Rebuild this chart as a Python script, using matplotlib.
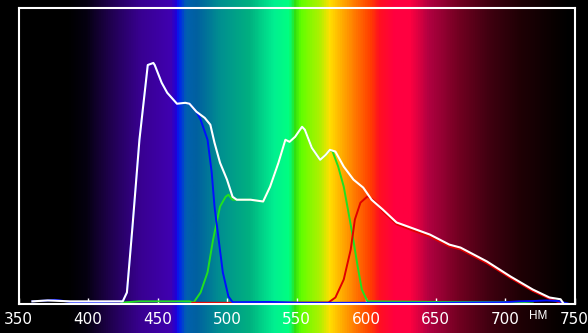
import numpy as np
import matplotlib
matplotlib.use("Agg")
import matplotlib.pyplot as plt
from matplotlib.colors import LinearSegmentedColormap

# spectral curves (wavelength nm, relative level)
white_nm = [360, 371, 387, 425, 428, 432, 437, 443, 447, 448, 453, 457, 464, 470, 473,
            478, 484, 488, 491, 495, 500, 504, 507, 517, 526, 531, 537, 542, 545, 549,
            554, 556, 561, 567, 571, 574, 578, 584, 591, 598, 604, 612, 622, 632, 646,
            660, 668, 687, 704, 720, 732, 740, 742]
white_val = [0.007, 0.010, 0.007, 0.007, 0.037, 0.260, 0.554, 0.807, 0.814, 0.807, 0.747,
             0.713, 0.676, 0.679, 0.676, 0.649, 0.628, 0.605, 0.544, 0.476, 0.419, 0.361,
             0.351, 0.351, 0.345, 0.395, 0.476, 0.554, 0.547, 0.564, 0.598, 0.588, 0.527,
             0.486, 0.503, 0.520, 0.514, 0.463, 0.419, 0.392, 0.351, 0.318, 0.274, 0.257,
             0.233, 0.199, 0.189, 0.142, 0.091, 0.047, 0.020, 0.014, 0.0]

blue_nm = [360, 371, 376, 380, 387, 400, 425, 428, 432, 437, 443, 447, 448, 453, 457, 464,
           470, 473, 478, 481, 486, 489, 491, 494, 497, 501, 504, 531, 553, 600, 650, 700,
           710, 720, 730, 738, 745]
blue_val = [0.007, 0.010, 0.012, 0.010, 0.005, 0.003, 0.007, 0.037, 0.260, 0.554, 0.807,
            0.814, 0.807, 0.747, 0.713, 0.676, 0.679, 0.676, 0.649, 0.622, 0.554, 0.443,
            0.328, 0.216, 0.105, 0.024, 0.004, 0.005, 0.002, 0.002, 0.002, 0.004, 0.007,
            0.008, 0.010, 0.008, 0.0]

green_nm = [424, 437, 473, 476, 481, 486, 490, 493, 495, 499, 501, 504, 507, 517, 526, 531,
            537, 542, 545, 549, 554, 556, 561, 567, 571, 574, 576, 580, 584, 587, 590, 594,
            597, 601, 650, 700, 720]
green_val = [0.003, 0.007, 0.007, 0.003, 0.037, 0.105, 0.216, 0.284, 0.328, 0.361, 0.368,
             0.351, 0.351, 0.351, 0.345, 0.395, 0.476, 0.554, 0.547, 0.564, 0.598, 0.588,
             0.527, 0.486, 0.503, 0.520, 0.514, 0.463, 0.395, 0.318, 0.240, 0.125, 0.047,
             0.007, 0.005, 0.005, 0.0]

red_nm = [475, 520, 573, 578, 584, 589, 592, 596, 601, 605, 608, 612, 622, 632, 646, 660,
          668, 687, 704, 720, 732, 741]
red_val = [0.002, 0.002, 0.003, 0.020, 0.081, 0.182, 0.284, 0.341, 0.362, 0.351, 0.338,
           0.312, 0.268, 0.250, 0.226, 0.193, 0.183, 0.136, 0.086, 0.042, 0.016, 0.0]

x_ticks = [350, 400, 450, 500, 550, 600, 650, 700, 750]

# background spectrum colour stops (nm, rgb)
spec_stops = [(336, "#000000"), (385, "#000000"), (398, "#050010"), (416, "#200050"),
              (437, "#380090"), (459, "#4000b0"), (463, "#2000d8"), (465, "#0020f0"),
              (470, "#0060b0"), (478, "#0060a0"), (495, "#009090"), (516, "#00b080"),
              (534, "#00f090"), (545, "#00ff80"), (549, "#30e010"), (553, "#60ff00"),
              (567, "#b0f000"), (574, "#ffe000"), (585, "#ffa000"), (603, "#ff4000"),
              (610, "#ff1020"), (621, "#ff0040"), (632, "#ff0040"), (646, "#b00040"),
              (668, "#700020"), (689, "#400010"), (711, "#200005"), (740, "#050000"),
              (748, "#000000"), (760, "#000000")]

px_per_nm = 1.39
left_px, fig_w_px = 18.5, 588
lo = 350 - left_px / px_per_nm
hi = 350 + (fig_w_px - left_px) / px_per_nm

fig = plt.figure(figsize=(5.88, 3.33), dpi=100, facecolor="black")

bg = fig.add_axes([0, 0, 1, 1])
bg.set_axis_off()
pos = [(w - lo) / (hi - lo) for w, _ in spec_stops]
pos[0], pos[-1] = 0.0, 1.0
cmap = LinearSegmentedColormap.from_list("spec", list(zip(pos, [c for _, c in spec_stops])))
bg.imshow(np.linspace(0, 1, 1000)[None, :], aspect="auto", cmap=cmap,
          extent=[lo, hi, 0, 1])
bg.set_xlim(lo, hi)

ax = fig.add_axes([left_px / 588, 29 / 333, 556 / 588, 296 / 333])
ax.set_facecolor("none")
ax.plot(green_nm, green_val, color="#20e020", lw=1.4)
ax.plot(red_nm, red_val, color="#e00000", lw=1.4)
ax.plot(blue_nm, blue_val, color="#0010ff", lw=1.4)
ax.plot(white_nm, white_val, color="white", lw=1.5)

ax.set_xlim(350, 750)
ax.set_ylim(-0.002, 1)
ax.set_xticks(x_ticks)
ax.set_yticks([])
ax.tick_params(axis="x", direction="in", length=4, width=1, color="white",
               labelcolor="white", labelsize=11, pad=6)
for lab in ax.get_xticklabels():
    lab.set_family(["Liberation Sans Narrow", "DejaVu Sans"])
for s in ax.spines.values():
    s.set_color("white")
    s.set_linewidth(1.5)

fig.text(538 / 588, 1 - 316 / 333, "НМ", color="white", fontsize=8.5,
         ha="center", va="center", family=["Liberation Sans", "DejaVu Sans"])

fig.savefig("out.png", dpi=100, facecolor="black")
